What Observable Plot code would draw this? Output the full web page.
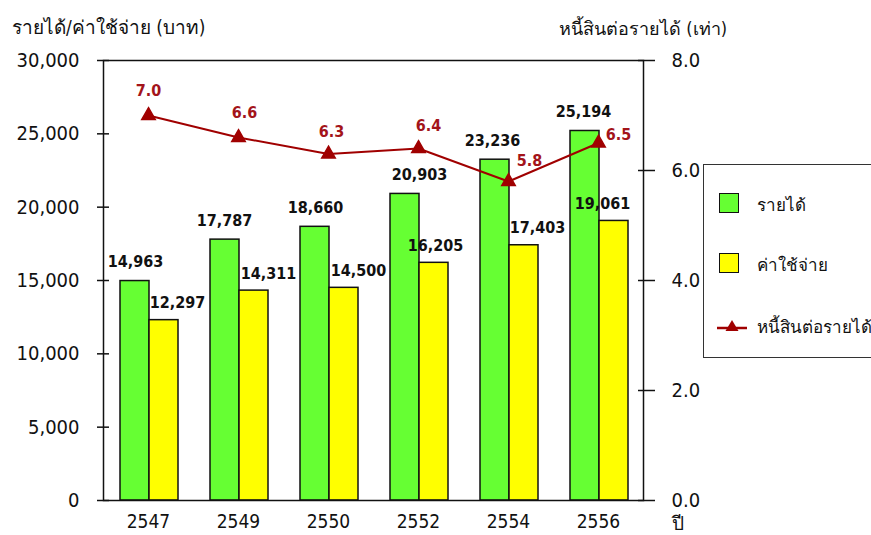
<!DOCTYPE html>
<html><head><meta charset="utf-8">
<script src="https://cdn.jsdelivr.net/npm/d3@7"></script>
<script src="https://cdn.jsdelivr.net/npm/@observablehq/plot@0.6"></script>
<style>
body{margin:0;background:#fff;}
#wrap{position:relative;width:871px;height:535px;overflow:hidden;font-family:"DejaVu Sans Condensed","DejaVu Sans","Noto Sans",sans-serif;color:#111;}
.t{position:absolute;white-space:nowrap;font-size:18px;}
#legend{position:absolute;left:703px;top:164px;width:200px;height:194px;border:1.5px solid #333;box-sizing:border-box;background:#fff;}
.sw{position:absolute;left:15px;width:20px;height:20px;border:1.5px solid #111;box-sizing:border-box;}
.lt{position:absolute;left:53px;font-size:17px;line-height:20px;white-space:nowrap;}
</style></head><body><div id="wrap"></div>
<script>
const years = ["2547","2549","2550","2552","2554","2556"];
const income = [14963,17787,18660,20903,23236,25194];
const expense = [12297,14311,14500,16205,17403,19061];
const debtRatio = [7.0,6.6,6.3,6.4,5.8,6.5];
const leftTicks = [0,5000,10000,15000,20000,25000,30000];
const rightTicks = [0,2,4,6,8];
const leftTitle = "รายได้/ค่าใช้จ่าย (บาท)";
const rightTitle = "หนี้สินต่อรายได้ (เท่า)";
const xTitle = "ปี";
const seriesNames = ["รายได้","ค่าใช้จ่าย","หนี้สินต่อรายได้"];

// label placement nudges (style only, in pixels)
const incomeLabelDx = [-13,-14,-13,1,-16,-15];
const expenseLabelDx = [29,30,30,17,29,4];
const ratioLabelNudge = [[0,-25],[6,-25],[3,-22],[10,-23],[21,-21],[20,-8]];

const Y_MAX = 30000, R_MAX = 8, K = Y_MAX / R_MAX;
const incomeData = years.map((year,i)=>({year, value: income[i]}));
const expenseData = years.map((year,i)=>({year, value: expense[i]}));
const ratioData = years.map((year,i)=>({year, ratio: debtRatio[i], y: debtRatio[i]*K}));

const GREEN = "#66ff33", YELLOW = "#ffff00", RED = "#a00000", RED_TXT = "#a3141a";
const FONT = '"DejaVu Sans Condensed","DejaVu Sans","Noto Sans",sans-serif';
const fmt = d3.format(",");

const chart = Plot.plot({
  width: 871, height: 535,
  marginLeft: 103, marginRight: 228, marginTop: 60, marginBottom: 35,
  style: {fontFamily: FONT, color: "#111", background: "transparent"},
  x: {type: "band", domain: years, padding: 0},
  y: {domain: [0, Y_MAX]},
  marks: [
    Plot.barY(incomeData, {x: "year", y: "value", fill: GREEN, stroke: "#111", strokeWidth: 1.5, insetLeft: 17, insetRight: 44}),
    Plot.barY(expenseData, {x: "year", y: "value", fill: YELLOW, stroke: "#111", strokeWidth: 1.5, insetLeft: 46, insetRight: 15}),
    Plot.frame({stroke: "#111", strokeWidth: 1.5}),
    Plot.axisY({anchor: "left", ticks: leftTicks, tickSize: 6, tickPadding: 18, tickFormat: fmt, fontSize: 20, label: null, strokeWidth: 1.5}),
    Plot.axisY({anchor: "left", ticks: leftTicks, tickSize: 6, dx: 6, text: null, label: null, strokeWidth: 1.5}),
    Plot.axisY({anchor: "right", ticks: rightTicks.map(r=>r*K), tickSize: 11, tickPadding: 17, tickFormat: d=>(d/K).toFixed(1), fontSize: 20, label: null, strokeWidth: 1.5}),
    Plot.axisY({anchor: "right", ticks: rightTicks.map(r=>r*K), tickSize: 6, dx: -6, text: null, label: null, strokeWidth: 1.5}),
    Plot.axisX({tickSize: 0, tickPadding: 14, fontSize: 19, label: null}),
    ...incomeData.map((d,i)=>Plot.text([d], {x: "year", y: "value", text: d=>fmt(d.value), dx: incomeLabelDx[i], dy: -19, fontSize: 16, fontWeight: "bold", fill: "#111"})),
    ...expenseData.map((d,i)=>Plot.text([d], {x: "year", y: "value", text: d=>fmt(d.value), dx: expenseLabelDx[i], dy: -17, fontSize: 16, fontWeight: "bold", fill: "#111"})),
    Plot.line(ratioData, {x: "year", y: "y", stroke: RED, strokeWidth: 2}),
    Plot.dot(ratioData, {x: "year", y: "y", symbol: "triangle", r: 5, fill: RED, stroke: RED}),
    ...ratioData.map((d,i)=>Plot.text([d], {x: "year", y: "y", text: d=>d.ratio.toFixed(1), dx: ratioLabelNudge[i][0], dy: ratioLabelNudge[i][1], fontSize: 16, fontWeight: "bold", fill: RED_TXT}))
  ]
});

const wrap = document.getElementById("wrap");
wrap.appendChild(chart);

function addText(txt, css){ const d=document.createElement("div"); d.className="t"; d.textContent=txt; Object.assign(d.style, css); wrap.appendChild(d); }
addText(leftTitle, {left:"12px", top:"12px", fontSize:"19px"});
addText(rightTitle, {right:"144px", top:"14px"});
addText(xTitle, {left:"672px", top:"508px", fontSize:"19px"});

const lg = document.createElement("div"); lg.id="legend";
const swatchColors = [GREEN, YELLOW];
[28, 88].forEach((top,i)=>{
  const s=document.createElement("div"); s.className="sw"; s.style.top=top+"px"; s.style.background=swatchColors[i]; lg.appendChild(s);
});
[30, 90, 152].forEach((top,i)=>{
  const t=document.createElement("div"); t.className="lt"; t.style.top=top+"px"; t.textContent=seriesNames[i]; lg.appendChild(t);
});
const ns="http://www.w3.org/2000/svg";
const g=document.createElementNS(ns,"svg"); g.setAttribute("width","34"); g.setAttribute("height","20");
g.style.position="absolute"; g.style.left="11px"; g.style.top="152px";
g.innerHTML=`<line x1="2" x2="32" y1="11" y2="11" stroke="${RED}" stroke-width="2.5"/><path d="M17,3 L23.5,14 L10.5,14 Z" fill="${RED}"/>`;
lg.appendChild(g);
wrap.appendChild(lg);
</script></body></html>
